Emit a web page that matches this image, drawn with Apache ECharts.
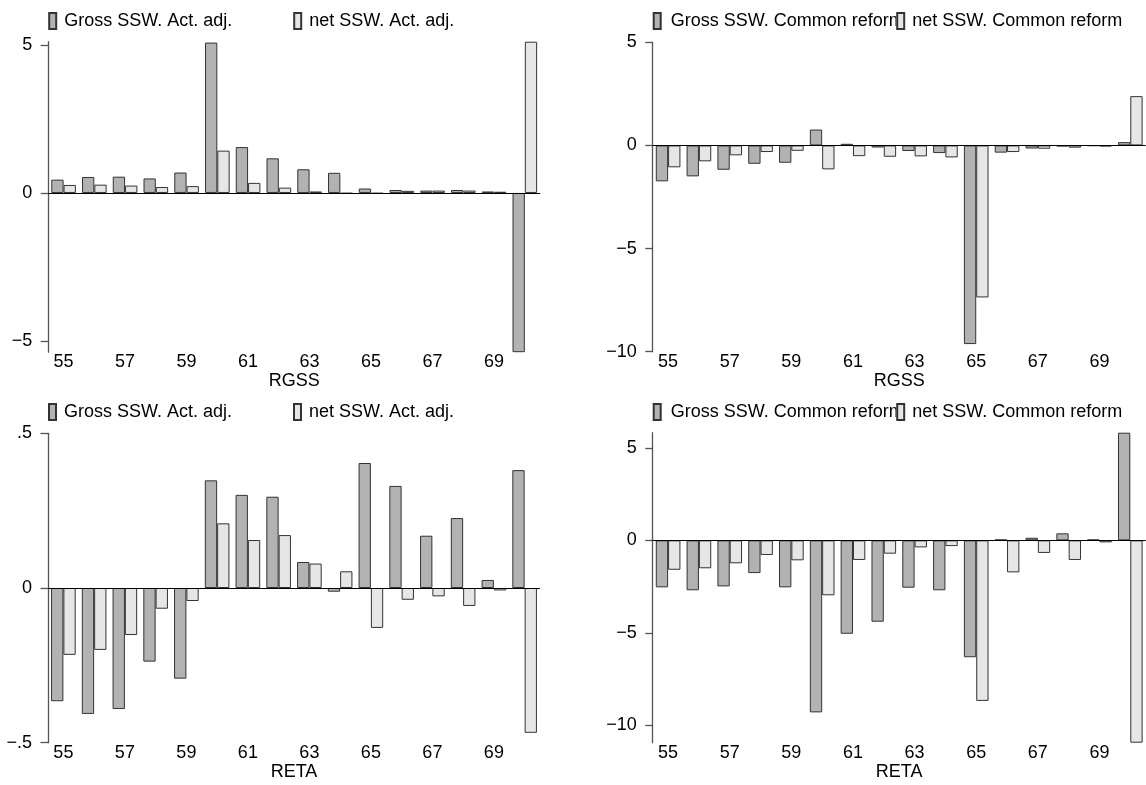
<!DOCTYPE html>
<html>
<head>
<meta charset="utf-8">
<script src="https://cdn.jsdelivr.net/npm/echarts@6/dist/echarts.min.js"></script>
<style>
html,body{margin:0;padding:0;background:#fff;}
#chart{width:1146px;height:785px;}
</style>
</head>
<body>
<div id="chart"></div>
<script>
const categories = ['55','56','57','58','59','60','61','62','63','64','65','66','67','68','69','70'];

const rgssActGross = [0.45,0.54,0.55,0.49,0.69,5.08,1.55,1.17,0.80,0.68,0.15,0.10,0.08,0.10,0.05,-5.38];
const rgssActNet   = [0.27,0.28,0.25,0.20,0.23,1.43,0.34,0.18,0.05,-0.02,-0.02,0.07,0.08,0.08,0.04,5.11];
const rgssComGross = [-1.74,-1.50,-1.18,-0.89,-0.84,0.77,0.08,-0.10,-0.27,-0.37,-9.63,-0.35,-0.15,-0.05,-0.02,0.16];
const rgssComNet   = [-1.06,-0.77,-0.48,-0.32,-0.26,-1.16,-0.52,-0.55,-0.53,-0.58,-7.37,-0.32,-0.16,-0.11,-0.05,2.39];
const retaActGross = [-0.366,-0.407,-0.391,-0.238,-0.293,0.348,0.301,0.295,0.084,-0.012,0.404,0.330,0.169,0.226,0.026,0.381];
const retaActNet   = [-0.216,-0.200,-0.152,-0.067,-0.042,0.209,0.155,0.171,0.079,0.054,-0.129,-0.038,-0.027,-0.058,-0.008,-0.468];
const retaComGross = [-2.54,-2.70,-2.49,-1.77,-2.54,-9.30,-5.05,-4.40,-2.56,-2.70,-6.32,0.04,0.14,0.38,0.04,5.82];
const retaComNet   = [-1.59,-1.51,-1.24,-0.79,-1.08,-2.97,-1.06,-0.72,-0.38,-0.31,-8.68,-1.73,-0.68,-1.06,-0.11,-10.94];

const yTicks1 = [-5,0,5];
const yTicks2 = [-10,-5,0,5];
const yTicks3 = [-0.5,0,0.5];
const yTicks4 = [-10,-5,0,5];

const nameActGross = 'Gross SSW. Act. adj.';
const nameActNet = 'net SSW. Act. adj.';
const nameComGross = 'Gross SSW. Common reform';
const nameComNet = 'net SSW. Common reform';
const xTitles = ['RGSS','RGSS','RETA','RETA'];

const FONT = 'Liberation Sans, Arial, sans-serif';
const FS = 18;
const grossColor = '#b2b2b2';
const netColor = '#e6e6e6';
const edge = '#333';

function fmt(v){
  let s = String(Math.abs(v)).replace(/^0\./,'.');
  return (v < 0 ? '\u2212' : '') + s;
}

const grids = [
  {left:48.2, top:41.7, width:492, height:310.5},
  {left:652.7, top:42.3, width:493, height:309.4},
  {left:48, top:433.3, width:492, height:309.4},
  {left:652.7, top:432.7, width:493, height:310}
];
const ranges = [
  [Math.min(...rgssActGross, ...rgssActNet), Math.max(...rgssActGross, ...rgssActNet)],
  [-10, 5],
  [-0.5, 0.5],
  [Math.min(...retaComGross, ...retaComNet), Math.max(...retaComGross, ...retaComNet)]
];
const ticks = [yTicks1, yTicks2, yTicks3, yTicks4];
const data = [
  [rgssActGross, rgssActNet, nameActGross, nameActNet],
  [rgssComGross, rgssComNet, nameComGross, nameComNet],
  [retaActGross, retaActNet, nameActGross, nameActNet],
  [retaComGross, retaComNet, nameComGross, nameComNet]
];

const xAxes = grids.map((g,i)=>({
  type:'category', gridIndex:i, data:categories,
  axisLine:{show:false}, axisTick:{show:false},
  axisLabel:{interval:1, margin:1, color:'#000', fontSize:FS, fontFamily:FONT},
  name:xTitles[i], nameLocation:'middle', nameGap:17,
  nameTextStyle:{color:'#000', fontSize:FS, fontFamily:FONT}
}));
const yAxes = grids.map((g,i)=>({
  type:'value', gridIndex:i, min:ranges[i][0], max:ranges[i][1],
  splitLine:{show:false},
  axisLine:{show:true, lineStyle:{color:'#555', width:1.3}},
  axisTick:{show:true, length:7.5, customValues:ticks[i], lineStyle:{color:'#555', width:1.3}},
  axisLabel:{customValues:ticks[i], formatter:fmt, margin:16, color:'#000', fontSize:FS, fontFamily:FONT}
}));

const series = [];
data.forEach((d,i)=>{
  series.push({
    type:'bar', name:d[2], xAxisIndex:i, yAxisIndex:i, data:d[0],
    barGap:'0%', barCategoryGap:'20%',
    itemStyle:{color:grossColor, borderColor:edge, borderWidth:1},
    markLine:{silent:true, symbol:'none', label:{show:false},
      lineStyle:{color:'#000', type:'solid', width:1}, data:[{yAxis:0}]}
  });
  series.push({
    type:'bar', name:d[3], xAxisIndex:i, yAxisIndex:i, data:d[1],
    barGap:'0%', barCategoryGap:'20%',
    itemStyle:{color:netColor, borderColor:edge, borderWidth:1}
  });
});

const legendTops = [12, 12, 403, 403];
const legends = [];
grids.forEach((g,i)=>{
  const d = data[i];
  const right = (i%2===1);
  const base = {
    top:legendTops[i], itemWidth:7, itemHeight:16, icon:'rect', padding:0,
    selectedMode:false
  };
  legends.push(Object.assign({}, base, {
    left:g.left, data:[d[2]], z:4,
    textStyle:{color:'#000', fontSize:FS, fontFamily:FONT, padding:[0,0,0,right?5:3]}
  }));
  legends.push(Object.assign({}, base, {
    left:g.left + g.width/2 - (right?3:1), data:[d[3]], z:6, zlevel:0,
    backgroundColor:'#ffffff', padding:[0,0,0,0],
    textStyle:{color:'#000', fontSize:FS, fontFamily:FONT, padding:[0,0,0,3]}
  }));
});

const chart = echarts.init(document.getElementById('chart'), null, {renderer:'canvas'});
chart.setOption({
  animation:false,
  backgroundColor:'#fff',
  grid:grids,
  xAxis:xAxes,
  yAxis:yAxes,
  legend:legends,
  series:series
});
</script>
</body>
</html>
